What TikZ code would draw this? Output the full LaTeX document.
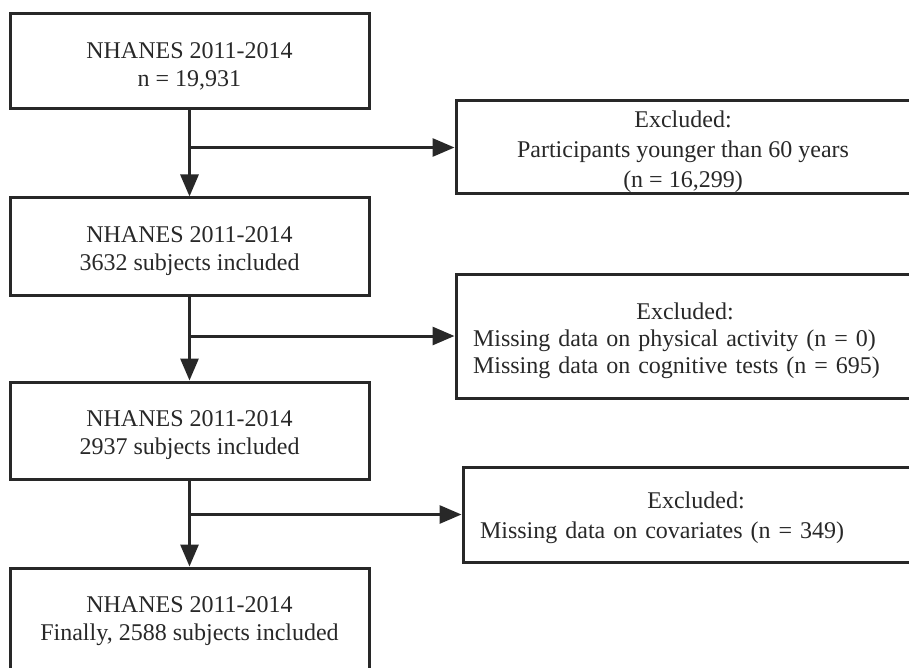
\documentclass[tikz,border=0pt]{standalone}
\usepackage{fontspec}
\setmainfont{Liberation Serif}
\usetikzlibrary{arrows.meta}
\definecolor{ink}{RGB}{40,40,40}
\tikzset{
  box/.style={draw=ink, line width=3pt, rectangle, inner sep=0pt},
  txt/.style={text=ink, align=center, inner sep=0pt, font=\fontsize{24}{28}\selectfont},
  conn/.style={draw=ink, line width=3pt, -{Triangle[length=22pt,width=18pt]}},
}
\begin{document}
\begin{tikzpicture}[x=1pt,y=-1pt]
\path[use as bounding box] (0,0) rectangle (909,668);
\clip (0,0) rectangle (909,668);
% left column boxes
\node[box, minimum width=359pt, minimum height=95pt] (b1) at (189.5,61.5) {};
\node[box, minimum width=359pt, minimum height=97pt] (b2) at (189.5,246.5) {};
\node[box, minimum width=359pt, minimum height=97pt] (b3) at (189.5,430.5) {};
\node[box, minimum width=359pt, minimum height=101pt] (b4) at (189.5,618.5) {};
\node[txt] (t1) at ([yshift=-5pt]b1.center) {NHANES 2011-2014\\n = 19,931};
\node[txt] (t2) at ([yshift=-5pt]b2.center) {NHANES 2011-2014\\3632 subjects included};
\node[txt] (t3) at ([yshift=-5pt]b3.center) {NHANES 2011-2014\\2937 subjects included};
\node[txt] (t4) at ([yshift=-3pt]b4.center) {NHANES 2011-2014\\Finally, 2588 subjects included};
% right column boxes
\node[box, minimum width=454pt, minimum height=93pt] (r1) at (683,147.5) {};
\node[box, minimum width=458pt, minimum height=124pt] (r2) at (685,336) {};
\node[box, minimum width=466pt, minimum height=95pt] (r3) at (696,514.5) {};
\node[txt, font=\fontsize{24}{30}\selectfont] (u1) at ([yshift=-4pt]r1.center) {Excluded:\\Participants younger than 60 years\\(n = 16,299)};
\node[txt, text width=424pt, align=left, font=\fontsize{24}{27}\selectfont] (u2) at ([yshift=-5pt]r2.center) {\makebox[\linewidth][c]{Excluded:}\\Missing data on physical activity (n = 0)\\Missing data on cognitive tests (n = 695)};
\node[txt, text width=432pt, align=left, font=\fontsize{24}{30}\selectfont] (u3) at ([yshift=-3pt]r3.center) {\makebox[\linewidth][c]{Excluded:}\\Missing data on covariates (n = 349)};
% connectors
\draw[conn] (b1) -- (b2);
\draw[conn] (b2) -- (b3);
\draw[conn] (b3) -- (b4);
\draw[conn] (b1.south |- r1.west) -- (r1.west);
\draw[conn] (b2.south |- r2.west) -- (r2.west);
\draw[conn] (b3.south |- r3.west) -- (r3.west);
\end{tikzpicture}
\end{document}
